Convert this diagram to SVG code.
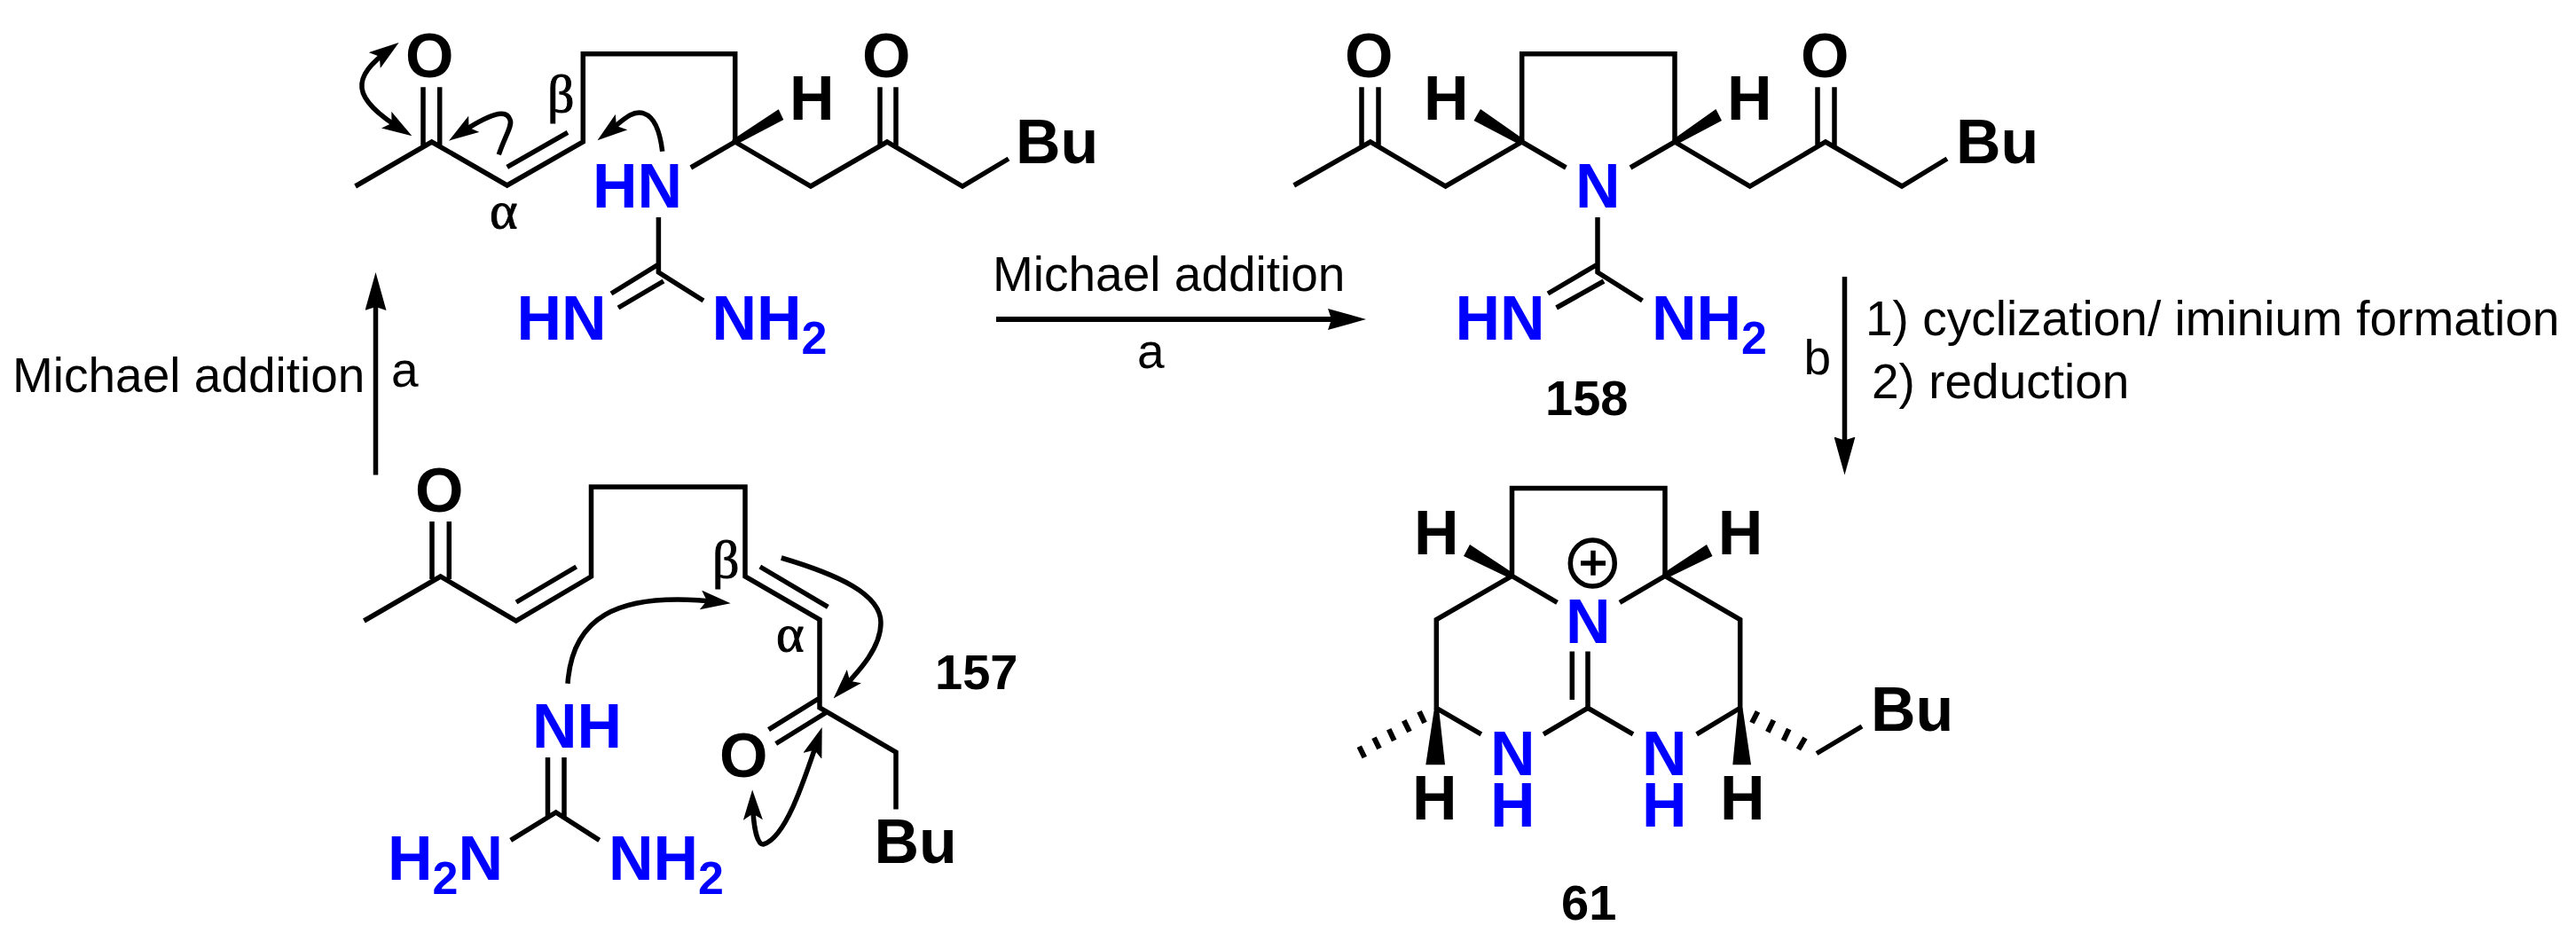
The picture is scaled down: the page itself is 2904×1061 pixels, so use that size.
<svg xmlns="http://www.w3.org/2000/svg" width="2904" height="1061" viewBox="0 0 2904 1061">
<style>
text{font-family:"Liberation Sans",Arial,sans-serif;fill:#000}
.a{font-weight:700;font-size:70px}
.n{fill:#0000ff}
.s{font-size:52px}
.l{font-weight:700;font-size:56px}
.r{font-size:55px}
.g{font-family:"Liberation Serif",serif;font-size:60px;stroke:#000;stroke-width:1}
.b{fill:none;stroke:#000;stroke-width:5.5;stroke-linejoin:miter;stroke-miterlimit:4}
.c{fill:none;stroke:#000;stroke-width:5.5}
.w{stroke-width:6}
.m{fill:#000}
</style>
<defs>
<marker id="h" markerUnits="userSpaceOnUse" viewBox="0 0 43 24" markerWidth="43" markerHeight="24" refX="30" refY="12" orient="auto-start-reverse"><path d="M0 0L43 12L0 24L4 12Z"/></marker>
<marker id="k" markerUnits="userSpaceOnUse" viewBox="0 0 34 22" markerWidth="34" markerHeight="22" refX="22" refY="11" orient="auto-start-reverse"><path d="M0 0L34 11L0 22L7 11Z"/></marker>
</defs>
<rect width="2904" height="1061" fill="#fff"/>

<g id="intermediate-top">
<path class="b" d="M400.6 210L486.7 160L571.7 209L657.3 160V60.7H828.7V160L778.8 189M828.7 160L914 210L1000 160L1085 210L1137 179M571.7 188.3L640 149.3M477 98.3V164M495.7 98.3V164M992 98.3V164M1010 98.3V164"/>
<path class="m" d="M825 158L877.7 123.3L883.3 135L830 163Z"/>
<path class="b" d="M742.4 245V307L793 339M742.4 298L689 331M748 317L697 347"/>
<text class="a" x="457" y="87">O</text>
<text class="a" x="972" y="87">O</text>
<text class="a" x="890" y="135">H</text>
<text class="a" x="1145" y="184">Bu</text>
<text class="a n" x="668" y="234">HN</text>
<text class="a n" x="582.5" y="383">HN</text>
<text class="a n" x="802.5" y="383">NH<tspan class="s" dy="16">2</tspan></text>
<text class="g" x="617" y="125.5">β</text>
<text class="g" x="552" y="257">α</text>
</g>

<g id="compound-157">
<path class="b" d="M410.4 700L496.6 650L581.8 700L666.5 650V549H840V650L924 698.5V798L1010 848V912.6M582 679L649.7 639M856.8 639L933.4 684.4M487 588V653M506.3 588V653M924 787L866.5 822.6M932 803L874.7 838.5"/>
<path class="b" d="M617.5 854V921M636 854V921M575.7 947.4L626.7 916L675.7 947.4"/>
<text class="a" x="468" y="577">O</text>
<text class="a" x="811" y="875.6">O</text>
<text class="a" x="985.5" y="972.6">Bu</text>
<text class="a n" x="600" y="843">NH</text>
<text class="a n" x="437" y="992">H<tspan class="s" dy="16">2</tspan><tspan dy="-16">N</tspan></text>
<text class="a n" x="686" y="992">NH<tspan class="s" dy="16">2</tspan></text>
<text class="g" x="803" y="651">β</text>
<text class="g" x="875" y="734">α</text>
<text class="l" x="1054" y="777">157</text>
</g>

<g id="compound-158">
<path class="b" d="M1458.7 209L1544.8 160L1629.6 210L1715.7 160V60.7H1888V160L1972.7 210L2058 160L2144 210L2195 179M1715.7 160L1765.4 189M1888 160L1838 189M1535 98.3V164M1554 98.3V164M2049 98.3V164M2068 98.3V164"/>
<path class="m" d="M1719 158L1669 123L1661.5 136L1713 163ZM1885 158L1934.4 123L1941 136L1890 163Z"/>
<path class="b" d="M1801 245V307L1851.5 339M1801 298L1745 331M1808 317L1754.6 347"/>
<text class="a" x="1516" y="87">O</text>
<text class="a" x="2030" y="87">O</text>
<text class="a" x="1605" y="135">H</text>
<text class="a" x="1947" y="135">H</text>
<text class="a" x="2205" y="184">Bu</text>
<text class="a n" x="1776" y="234">N</text>
<text class="a n" x="1640.5" y="383">HN</text>
<text class="a n" x="1862" y="383">NH<tspan class="s" dy="16">2</tspan></text>
<text class="l" x="1742" y="468">158</text>
</g>

<g id="compound-61">
<path class="b" d="M1704.5 649.4V550.4H1877V649.4M1755.5 679.4L1704.5 649.4L1619.3 698.7V798.3L1669.8 827.8M1826 679.4L1877 649.4L1961.7 698.7V798.3L1912.7 827.8M1740 827.8L1790 798.3L1841 827.8M1772.3 734.6V789M1790 734.6V798.3M2048 849.5L2099 819"/>
<path class="m" d="M1707 647L1657 613.9L1650 627L1702 652ZM1874 647L1924 613.9L1930.5 627L1879 652ZM1617 798.3L1607.3 862.3H1629L1622 798.3ZM1959.5 798.3L1953.3 862.3H1974L1964.5 798.3Z"/>
<path class="b w" d="M1600 802.3L1606 815M1582.7 812.3L1589 825M1565.7 822.3L1571.7 835M1549 831.7L1555 844M1532.3 841.7L1538.3 854M1981.5 802.3L1975 815M1999.4 812L1992.8 825.4M2016.7 822L2010.6 835M2035 832L2027.4 845"/>
<ellipse class="c" cx="1795.3" cy="635" rx="25" ry="26"/>
<path class="c" d="M1782 635H1810M1796 620.8V648.7"/>
<text class="a n" x="1765" y="725">N</text>
<text class="a n"><tspan x="1680" y="874">N</tspan><tspan x="1680" y="931.7">H</tspan></text>
<text class="a n"><tspan x="1851" y="874">N</tspan><tspan x="1851" y="931.7">H</tspan></text>
<text class="a" x="1594" y="624.6">H</text>
<text class="a" x="1936.7" y="624.6">H</text>
<text class="a" x="1592" y="924">H</text>
<text class="a" x="1939" y="924">H</text>
<text class="a" x="2109" y="823.7">Bu</text>
<text class="l" x="1760" y="1037">61</text>
</g>

<g id="labels">
<text class="r" x="14" y="442">Michael addition</text>
<text class="r" x="441" y="436">a</text>
<text class="r" x="1119" y="328">Michael addition</text>
<text class="r" x="1282" y="415">a</text>
<text class="r" x="2033.5" y="422">b</text>
<text class="r" x="2103" y="378">1) cyclization/ iminium formation</text>
<text class="r" x="2110" y="449">2) reduction</text>
</g>

<g id="connectors">
<path class="c" marker-end="url(#h)" d="M423.5 535.5V320"/>
<path class="c w" marker-end="url(#h)" d="M1123 360H1527"/>
<path class="c" marker-end="url(#h)" d="M2079.5 312V522.5"/>
<path class="c" marker-start="url(#k)" marker-end="url(#k)" d="M454.2 146.8C395 110 395 88 440 55"/>
<path class="c" marker-end="url(#k)" d="M562.3 174.3C570 152 578 141 575 135C571 122 552 128 516 152"/>
<path class="c" marker-end="url(#k)" d="M746.7 170.7C744 148 738 132 726 128C712 123 700 138 683 151"/>
<path class="c" marker-end="url(#k)" d="M640 770.7C645 700 690 665 811.7 679"/>
<path class="c" marker-end="url(#k)" d="M880.8 629C945 648 993 670 993 702C993 730 970 755 947.8 778.7"/>
<path class="c" marker-start="url(#k)" marker-end="url(#k)" d="M848.4 902.4C849 930 853 952 860.4 952C885 945 905 885 922.9 831.4"/>
</g>
</svg>
